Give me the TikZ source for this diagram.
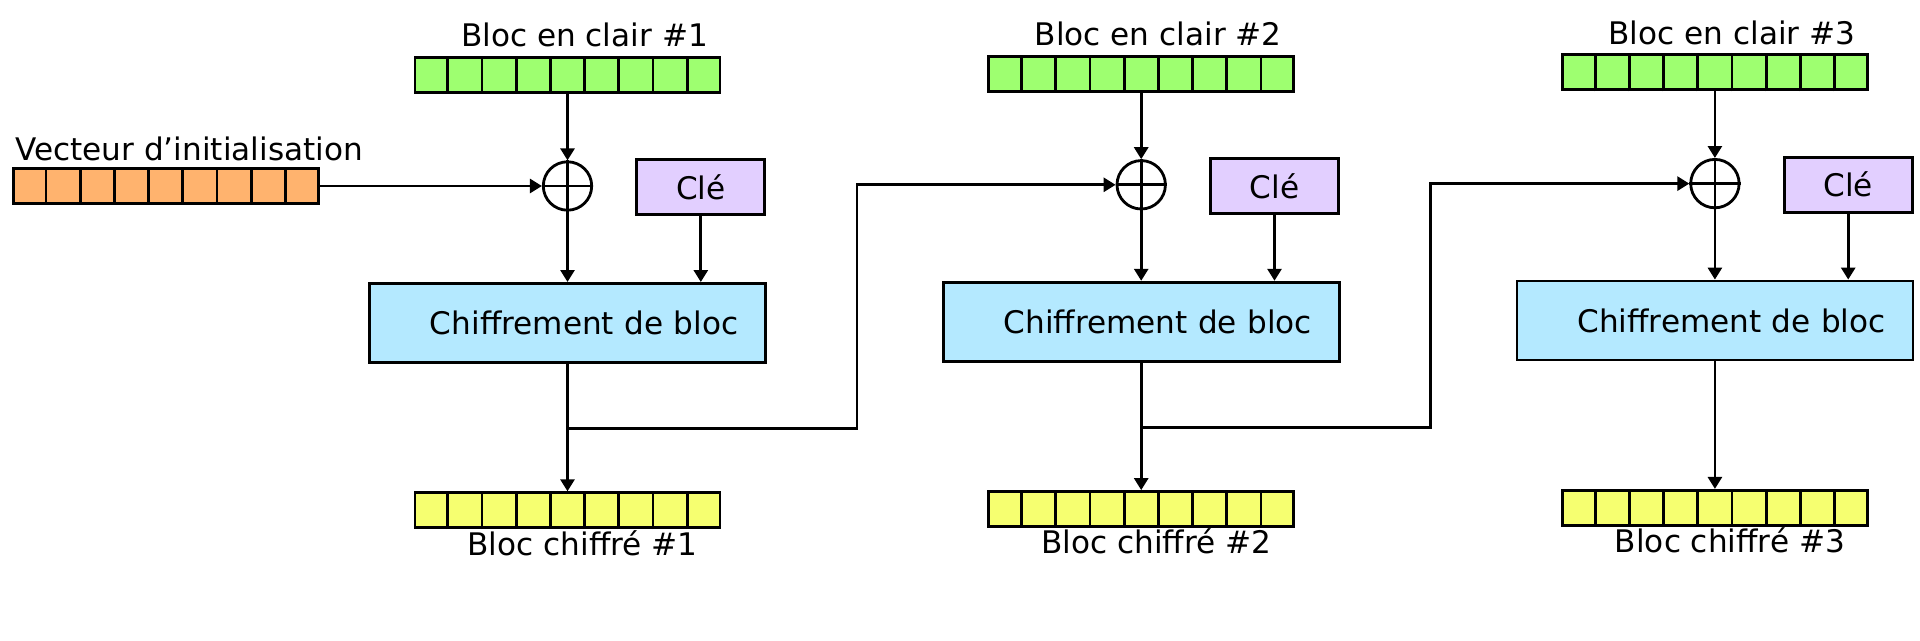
\documentclass[tikz,border=0pt]{standalone}
\usepackage{fontspec}
\setmainfont{DejaVu Sans}
\usepackage{xcolor}
\usepackage{tikz}
\usetikzlibrary{calc,arrows.meta}

\definecolor{vertclair}{RGB}{158,255,112}
\definecolor{jaunebloc}{RGB}{246,255,112}
\definecolor{orangeiv}{RGB}{255,179,110}
\definecolor{mauvecle}{RGB}{226,207,255}
\definecolor{bleuchif}{RGB}{180,233,255}

\tikzset{
	every node/.style={font=\fontsize{8.85}{10}\selectfont},
	registre/.style={draw, line width=0.8pt, minimum width=3.05cm, minimum height=0.35cm, inner sep=0},
	oux/.style={draw, circle, line width=0.8pt, minimum size=0.484cm, inner sep=0},
	cle/.style={draw, line width=0.8pt, fill=mauvecle, minimum width=1.28cm, minimum height=0.55cm, inner sep=0},
	chiffre/.style={draw, line width=0.8pt, fill=bleuchif, minimum width=3.96cm, minimum height=0.79cm,
		text width=3.414cm, align=right, inner xsep=0.273cm},
	fleche/.style={line width=0.8pt, -{Triangle[length=0.12cm, width=0.14cm]}}
}

\begin{document}
\begin{tikzpicture}[line width=0.8pt]
			\useasboundingbox (0, 0) rectangle (19.2, 6.4);
			% vecteur d'initialisation
			\node[anchor=base west, inner sep=0] (titreiv) at (0.14, 4.80) {Vecteur d’initialisation};
			\node[registre, fill=orangeiv] (iv) at (1.657, 4.54) {};
			\foreach \k in {1,...,8}
				\draw ($(iv.south west)!\k/9!(iv.south east)$) -- ($(iv.north west)!\k/9!(iv.north east)$);
			% les trois blocs
			\foreach \n in {1,2,3}
			{
				\pgfmathsetmacro\cx{5.675 + (\n-1)*5.737}
				\pgfmathsetmacro\d{(\n-1)*0.012}
				\node[registre, fill=vertclair] (clair\n) at (\cx, 5.652+\d) {};
				\node[anchor=base] (titreclair\n) at (\cx+0.17, 5.932+\d) {Bloc en clair \#\n};
				\node[oux] (xor\n) at (\cx, 4.54+\d) {};
				\draw (xor\n.north) -- (xor\n.south) (xor\n.west) -- (xor\n.east);
				\node[cle] (cle\n) at (\cx+1.333, 4.53+\d) {Clé};
				\node[chiffre] (chif\n) at (\cx, 3.171+\d) {Chiffrement de bloc};
				\node[registre, fill=jaunebloc] (chiffre\n) at (\cx, 1.298+\d) {};
				\node[anchor=base] (titrechiffre\n) at (\cx+0.15, 0.85+\d) {Bloc chiffré \#\n};
				\coordinate (derive\n) at (\cx, 2.114+\d);
				\foreach \k in {1,...,8}
				{
					\draw ($(clair\n.south west)!\k/9!(clair\n.south east)$) -- ($(clair\n.north west)!\k/9!(clair\n.north east)$);
					\draw ($(chiffre\n.south west)!\k/9!(chiffre\n.south east)$) -- ($(chiffre\n.north west)!\k/9!(chiffre\n.north east)$);
				}
				\draw[fleche] (clair\n) -- (xor\n);
				\draw[fleche] (xor\n) -- (xor\n |- chif\n.north);
				\draw[fleche] (cle\n) -- (cle\n |- chif\n.north);
				\draw[fleche] (chif\n) -- (chiffre\n);
			}
			\draw[fleche] (iv.east) -- (xor1.west);
			\foreach \n/\m in {1/2, 2/3}
				\draw[fleche] (derive\n) -- ++(2.895, 0) |- (xor\m.west);
		\end{tikzpicture}
\end{document}
